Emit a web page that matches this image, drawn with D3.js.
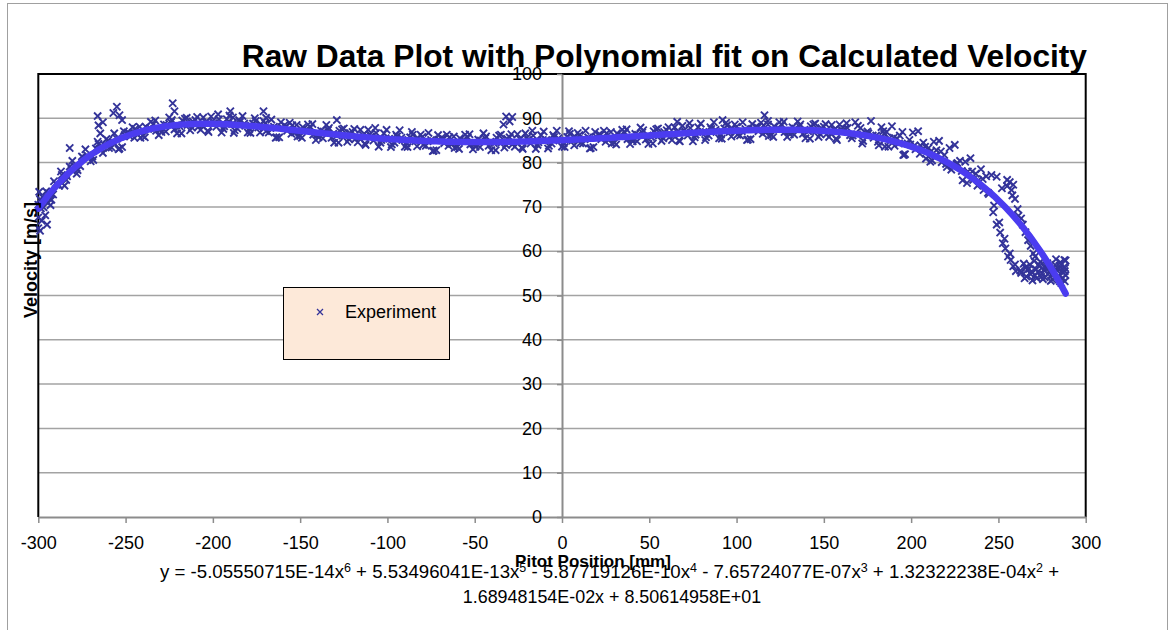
<!DOCTYPE html>
<html>
<head>
<meta charset="utf-8">
<script src="https://cdn.jsdelivr.net/npm/d3@7"></script>
<style>
  body { margin: 0; background: #fff; }
  text { font-family: "Liberation Sans", Arial, sans-serif; fill: #000; }
</style>
</head>
<body>
<script>
// axis ticks
const xTicks = [-300, -250, -200, -150, -100, -50, 0, 50, 100, 150, 200, 250, 300]
const yTicks = [0, 10, 20, 30, 40, 50, 60, 70, 80, 90, 100]

// trendline coefficients a0..a6, as printed under the chart
const fitCoef = [85.0614958, 1.68948154e-2, 1.32322238e-4, -7.65724077e-7, -5.87719126e-10, 5.53496041e-13, -5.05550715e-14]

const edgeStart = [[-300,65.2],[-300,67.6],[-299.5,73.4],[-299,64.6],[-298,66.9],[-297.5,72.2],[-296,68.1],[-295,66.0],[-293,70.4],[-291.5,72.8]]

const scanA = [[-300,70.5],[-297,69.9],[-294,73.1],[-291,75.8],[-288,74.8],[-285,74.8],[-282,79.1],[-279,79.1],[-276,79.2],[-273,83.0],[-270,80.3],[-267,83.2],[-264,83.1],[-261,85.3],[-258,83.4],[-255,85.4],[-252,83.5],[-249,86.8],[-246,88.0],[-243,86.3],[-240,86.0],[-237,87.6],[-234,88.7],[-231,86.2],[-228,88.6],[-225,90.2],[-222,87.5],[-219,88.2],[-216,89.9],[-213,87.3],[-210,89.6],[-207,87.4],[-204,89.1],[-201,90.4],[-198,88.1],[-195,86.8],[-192,89.8],[-189,88.7],[-186,87.7],[-183,90.5],[-180,86.8],[-177,88.8],[-174,87.9],[-171,89.4],[-168,86.8],[-165,88.1],[-162,85.7],[-159,88.4],[-156,89.0],[-153,86.8],[-150,86.0],[-147,87.3],[-144,88.0],[-141,85.1],[-138,87.2],[-135,88.5],[-132,85.6],[-129,86.1],[-126,87.5],[-123,84.7],[-120,86.9],[-117,84.6],[-114,86.2],[-111,87.4],[-108,85.0],[-105,83.6],[-102,86.6],[-99,85.4],[-96,84.5],[-93,87.3],[-90,83.6],[-87,85.7],[-84,84.8],[-81,86.3],[-78,83.8],[-75,85.1],[-72,82.8],[-69,85.6],[-66,86.3],[-63,84.2],[-60,83.5],[-57,84.9],[-54,85.7],[-51,83.0],[-48,85.2],[-45,86.6],[-42,83.8],[-39,84.4],[-36,86.1],[-33,83.4],[-30,85.7],[-27,83.6],[-24,85.3],[-21,86.6],[-18,84.3],[-15,83.1],[-12,86.2],[-9,85.1],[-6,84.3],[-3,87.2],[0,83.6],[3,85.8],[6,85.0],[9,86.7],[12,84.3],[15,85.7],[18,83.5],[21,86.3],[24,87.2],[27,85.2],[30,84.5],[33,86.0],[36,86.8],[39,84.2],[42,86.5],[45,87.9],[48,85.2],[51,85.8],[54,87.5],[57,84.9],[60,87.3],[63,85.1],[66,86.9],[69,88.3],[72,86.1],[75,84.8],[78,88.0],[81,86.9],[84,86.1],[87,89.1],[90,85.5],[93,87.7],[96,86.9],[99,88.6],[102,86.1],[105,87.6],[108,85.3],[111,88.1],[114,89.0],[117,86.9],[120,86.2],[123,87.6],[126,88.5],[129,85.8],[132,88.0],[135,89.3],[138,86.5],[141,87.1],[144,88.6],[147,85.8],[150,88.1],[153,85.8],[156,87.4],[159,88.6],[162,87.6],[165,86.2],[168,89.1],[171,87.8],[174,86.7],[177,89.4],[180,86.1],[183,88.0],[186,86.9],[189,88.2],[192,85.4],[195,86.9],[198,84.3],[201,86.8],[204,87.1],[207,84.5],[210,83.3],[213,84.7],[216,84.9],[219,81.7],[222,83.3],[225,84.0],[228,80.4],[231,80.2],[234,81.0],[237,77.5],[240,78.5],[243,76.9],[246,77.2],[249,76.8],[252,74.2],[255,74.7],[258,72.6],[261,69.5],[264,66.0],[267,62.5],[270,59.5],[273,57.0],[276,55.8],[279,56.4],[282,55.2],[285,56.7],[288,55.5]]

const scanB = [[-298.5,69.7],[-295.5,73.5],[-292.5,71.6],[-289.5,75.0],[-286.5,77.2],[-283.5,76.9],[-280.5,80.4],[-277.5,78.3],[-274.5,81.2],[-271.5,81.3],[-268.5,80.6],[-265.5,84.2],[-262.5,84.1],[-259.5,83.3],[-256.5,86.6],[-253.5,83.2],[-250.5,86.2],[-247.5,85.9],[-244.5,87.6],[-241.5,85.6],[-238.5,88.1],[-235.5,89.2],[-232.5,87.2],[-229.5,86.9],[-226.5,88.5],[-223.5,89.6],[-220.5,86.6],[-217.5,89.5],[-214.5,88.5],[-211.5,89.3],[-208.5,88.0],[-205.5,90.2],[-202.5,86.9],[-199.5,88.9],[-196.5,89.8],[-193.5,88.2],[-190.5,90.6],[-187.5,87.3],[-184.5,89.2],[-181.5,88.3],[-178.5,86.7],[-175.5,89.4],[-172.5,88.6],[-169.5,87.1],[-166.5,89.7],[-163.5,85.7],[-160.5,88.0],[-157.5,87.2],[-154.5,88.4],[-151.5,85.9],[-148.5,88.0],[-145.5,88.6],[-142.5,86.3],[-139.5,85.7],[-136.5,87.0],[-133.5,87.8],[-130.5,84.5],[-127.5,87.2],[-124.5,86.0],[-121.5,86.7],[-118.5,85.3],[-115.5,87.4],[-112.5,84.0],[-109.5,85.9],[-106.5,86.7],[-103.5,85.1],[-100.5,87.4],[-97.5,84.1],[-94.5,85.9],[-91.5,85.1],[-88.5,83.5],[-85.5,86.3],[-82.5,85.5],[-79.5,84.0],[-76.5,86.7],[-73.5,82.7],[-70.5,85.2],[-67.5,84.4],[-64.5,85.7],[-61.5,83.3],[-58.5,85.5],[-55.5,86.3],[-52.5,84.1],[-49.5,83.6],[-46.5,85.0],[-43.5,85.9],[-40.5,82.8],[-37.5,85.6],[-34.5,84.6],[-31.5,85.4],[-28.5,84.1],[-25.5,86.4],[-22.5,83.1],[-19.5,85.1],[-16.5,86.1],[-13.5,84.6],[-10.5,87.0],[-7.5,83.8],[-4.5,85.8],[-1.5,85.0],[1.5,83.5],[4.5,86.5],[7.5,85.8],[10.5,84.4],[13.5,87.2],[16.5,83.3],[19.5,85.9],[22.5,85.3],[25.5,86.6],[28.5,84.3],[31.5,86.6],[34.5,87.4],[37.5,85.3],[40.5,84.8],[43.5,86.3],[46.5,87.3],[49.5,84.2],[52.5,87.1],[55.5,86.1],[58.5,86.9],[61.5,85.7],[64.5,88.0],[67.5,84.8],[70.5,86.8],[73.5,87.8],[76.5,86.3],[79.5,88.8],[82.5,85.7],[85.5,87.6],[88.5,86.9],[91.5,85.4],[94.5,88.4],[97.5,87.7],[100.5,86.3],[103.5,89.1],[106.5,85.2],[109.5,87.7],[112.5,87.1],[115.5,88.4],[118.5,86.0],[121.5,88.2],[124.5,89.1],[127.5,86.9],[130.5,86.4],[133.5,87.7],[136.5,88.6],[139.5,85.5],[142.5,88.2],[145.5,87.1],[148.5,87.8],[151.5,86.4],[154.5,88.5],[157.5,85.1],[160.5,87.0],[163.5,87.8],[166.5,86.1],[169.5,88.3],[172.5,84.9],[175.5,86.6],[178.5,85.6],[181.5,83.9],[184.5,86.5],[187.5,85.5],[190.5,83.8],[193.5,86.1],[196.5,81.9],[199.5,84.1],[202.5,83.0],[205.5,83.8],[208.5,80.9],[211.5,82.6],[214.5,82.8],[217.5,80.1],[220.5,79.0],[223.5,79.7],[226.5,79.9],[229.5,76.0],[232.5,78.0],[235.5,76.1],[238.5,76.0],[241.5,73.8],[244.5,72.9],[247.5,70.3],[250.5,66.5],[253.5,62.8],[256.5,59.5],[259.5,57.0],[262.5,55.6],[265.5,56.3],[268.5,54.8],[271.5,55.9],[274.5,54.2],[277.5,56.8],[280.5,54.6],[283.5,55.7],[286.5,53.8]]

const scanC = [[-299,71.7],[-296,71.3],[-293,71.7],[-290,75.3],[-287,78.0],[-284,76.1],[-281,78.4],[-278,77.5],[-275,81.4],[-272,81.6],[-269,81.4],[-266,84.7],[-263,82.2],[-260,85.0],[-257,84.6],[-254,83.0],[-251,87.1],[-248,86.7],[-245,85.6],[-242,88.1],[-239,85.7],[-236,87.8],[-233,89.5],[-230,87.5],[-227,87.0],[-224,89.1],[-221,88.4],[-218,86.6],[-215,90.1],[-212,87.9],[-209,90.3],[-206,88.3],[-203,87.2],[-200,89.4],[-197,90.9],[-194,87.6],[-191,88.7],[-188,86.7],[-185,89.6],[-182,88.8],[-179,87.6],[-176,90.0],[-173,86.8],[-170,88.9],[-167,87.8],[-164,85.6],[-161,89.1],[-158,88.1],[-155,86.5],[-152,88.5],[-149,85.6],[-146,87.4],[-143,88.7],[-140,86.3],[-137,85.5],[-134,87.4],[-131,86.5],[-128,84.5],[-125,87.7],[-122,85.3],[-119,87.6],[-116,85.5],[-113,84.3],[-110,86.4],[-107,87.8],[-104,84.5],[-101,85.5],[-98,83.5],[-95,86.3],[-92,85.6],[-89,84.4],[-86,86.9],[-83,83.7],[-80,85.8],[-77,84.8],[-74,82.6],[-71,86.2],[-68,85.3],[-65,83.8],[-62,85.9],[-59,83.1],[-56,85.0],[-53,86.4],[-50,84.2],[-47,83.5],[-44,85.5],[-41,84.7],[-38,82.8],[-35,86.3],[-32,84.0],[-29,86.4],[-26,84.5],[-23,83.4],[-20,85.6],[-17,87.2],[-14,84.0],[-11,85.1],[-8,83.2],[-5,86.2],[-2,85.5],[1,84.4],[4,87.1],[7,83.9],[10,86.2],[13,85.3],[16,83.2],[19,86.9],[22,86.2],[25,84.7],[28,86.9],[31,84.1],[34,86.1],[37,87.5],[40,85.4],[43,84.8],[46,86.8],[49,86.1],[52,84.3],[55,87.7],[58,85.5],[61,88.0],[64,86.1],[67,85.0],[70,87.3],[73,88.9],[76,85.7],[79,86.9],[82,85.1],[85,88.0],[88,87.4],[91,86.3],[94,89.0],[97,85.9],[100,88.1],[103,87.1],[106,85.1],[109,88.7],[112,87.9],[115,86.5],[118,88.6],[121,85.8],[124,87.7],[127,89.2],[130,87.0],[133,86.3],[136,88.2],[139,87.4],[142,85.4],[145,88.8],[148,86.4],[151,88.7],[154,86.6],[157,85.4],[160,87.5],[163,88.9],[166,85.5],[169,86.4],[172,84.3],[175,87.0],[178,86.1],[181,84.7],[184,87.1],[187,83.6],[190,85.6],[193,84.3],[196,81.8],[199,85.1],[202,83.9],[205,82.0],[208,83.6],[211,80.2],[214,81.6],[217,82.5],[220,79.7],[223,78.4],[226,79.7],[229,78.1],[232,75.4],[235,78.0],[238,74.8],[241,76.3],[244,73.2]]

const spikes = [[-282,83.3],[-266,90.5],[-265.5,88.4],[-264.5,86.6],[-263,89.1],[-257,91.2],[-255,92.6],[-253.5,90.7],[-252,89.6],[-223,93.4],[-222,91.6],[-190,91.6],[-188.5,90.2],[-171,91.6],[-169.5,90.1],[-129,89.6],[-32,90.4],[-30,89.3],[-28.5,90.3],[-33.5,88.6],[66,89.2],[92,89.6],[116,90.7],[118,89.4],[185,83.6],[195.5,81.7],[212,80.5]]

const dropUpper = [[255,76.1],[256.5,75.6],[257.5,73.8],[258.5,75.0],[259.5,71.8],[261.5,68.0],[263,67.4],[265.5,64.3],[268.5,61.2],[271,58.8]]
const dropLower = [[247,68.8],[249,66.0],[251,64.2],[252.5,61.8],[254,60.6],[255.5,58.8],[257,58.0],[258.5,56.6],[260,55.5]]

const clusterEnd = [[263,55.1],[264.5,57.2],[266,54.3],[267.5,56.0],[269,55.4],[270.5,57.8],[272,53.9],[273.5,56.6],[275,55.0],[276.5,54.1],[278,57.3],[279.5,55.6],[281,53.6],[282.5,56.9],[284,54.4],[285.5,57.5],[287,55.2],[288,53.2],[288.5,57.9],[287.5,56.4],[286,52.8],[284.5,55.9],[283,58.2],[281.5,55.0],[280,53.3],[278.5,54.8],[277,56.1],[275.5,53.7],[274,57.6],[272.5,55.3],[271,54.5],[269.5,53.4],[268,57.0],[266.5,55.8],[265,53.9],[288.4,54.6],[288.2,56.2],[287.8,58.0],[286.8,54.0],[285.2,53.2]]

const w = 1171
const h = 630

const svg = d3.select("body")
  .append("svg")
  .attr("width", w)
  .attr("height", h)

// chart frame
svg.append("rect")
  .attr("x", 7.5)
  .attr("y", 3.5)
  .attr("width", 1160)
  .attr("height", 660)
  .attr("fill", "#fff")
  .attr("stroke", "#a0a0a0")

const xScale = d3.scaleLinear().domain([-300, 300]).range([38.3, 1085.7])
const yScale = d3.scaleLinear().domain([0, 100]).range([517, 74])

// horizontal gridlines
svg.selectAll("line.grid")
  .data(yTicks.filter(d => d > 0 && d < 100))
  .enter()
  .append("line")
  .attr("class", "grid")
  .attr("x1", xScale(-300))
  .attr("x2", xScale(300))
  .attr("y1", d => yScale(d))
  .attr("y2", d => yScale(d))
  .attr("stroke", "#a3a3a3")
  .attr("stroke-width", 1.5)

// plot border (top, left, right)
svg.append("path")
  .attr("d", `M${xScale(-300)},${yScale(0)}V${yScale(100)}H${xScale(300)}V${yScale(0)}`)
  .attr("fill", "none")
  .attr("stroke", "#000")
  .attr("stroke-width", 2)

const plain = d => String(d)

const xAxis = d3.axisBottom(xScale).tickValues(xTicks).tickFormat(plain).tickSizeInner(6).tickSizeOuter(0).tickPadding(13)
const gx = svg.append("g")
  .attr("transform", "translate(0," + yScale(0) + ")")
  .call(xAxis)

const yAxis = d3.axisLeft(yScale).tickValues(yTicks).tickFormat(plain).tickSizeInner(5).tickSizeOuter(0).tickPadding(15)
const gy = svg.append("g")
  .attr("transform", "translate(" + xScale(0) + ",0)")
  .call(yAxis)

;[gx, gy].forEach(g => {
  g.select(".domain").attr("stroke", "#8c8c8c").attr("stroke-width", 2)
  g.selectAll(".tick line").attr("stroke", "#8c8c8c").attr("stroke-width", 1.5)
  g.selectAll(".tick text")
    .attr("font-size", 18)
    .attr("font-family", "'Liberation Sans', Arial, sans-serif")
    .attr("fill", "#000")
})

// measured points as crosses
const allPts = [].concat(edgeStart, scanA, scanB, scanC, spikes, dropUpper, dropLower, clusterEnd)
const cross = "M-3.6,-3.6L3.6,3.6M-3.6,3.6L3.6,-3.6"

svg.append("g")
  .selectAll("path")
  .data(allPts)
  .enter()
  .append("path")
  .attr("transform", d => "translate(" + xScale(d[0]) + "," + yScale(d[1]) + ")")
  .attr("d", cross)
  .attr("fill", "none")
  .attr("stroke", "#333399")
  .attr("stroke-width", 1.9)

// polynomial trendline over the data range
const poly = xv => fitCoef.reduce((s, c, i) => s + c * Math.pow(xv, i), 0)
const xMin = d3.min(allPts, d => d[0])
const xMax = d3.max(allPts, d => d[0])
const fitPts = d3.range(xMin, xMax, 2).concat([xMax]).map(xv => [xv, poly(xv)])

svg.append("path")
  .datum(fitPts)
  .attr("d", d3.line().x(d => xScale(d[0])).y(d => yScale(d[1])))
  .attr("fill", "none")
  .attr("stroke", "#4b3cf0")
  .attr("stroke-width", 6.5)
  .attr("stroke-linecap", "round")
  .attr("stroke-linejoin", "round")

// legend
svg.append("rect")
  .attr("x", 283.5)
  .attr("y", 287.5)
  .attr("width", 166)
  .attr("height", 72)
  .attr("fill", "#fde9d9")
  .attr("stroke", "#000")
  .attr("stroke-width", 1)

svg.append("path")
  .attr("transform", "translate(320,312)")
  .attr("d", "M-3,-3L3,3M-3,3L3,-3")
  .attr("stroke", "#333399")
  .attr("stroke-width", 1.3)

svg.append("text")
  .attr("x", 345)
  .attr("y", 318)
  .attr("font-size", 18)
  .text("Experiment")

// titles
const title = svg.append("text")
  .attr("x", 1087)
  .attr("y", 67)
  .attr("text-anchor", "end")
  .attr("font-weight", "bold")
  .attr("font-size", 26)
  .text("Raw Data Plot with Polynomial fit on Calculated Velocity")
title.attr("font-size", 26 * 846 / title.node().getBBox().width)

svg.append("text")
  .attr("transform", "translate(37,260) rotate(-90)")
  .attr("text-anchor", "middle")
  .attr("font-weight", "bold")
  .attr("font-size", 18)
  .text("Velocity [m/s]")

svg.append("text")
  .attr("x", 593)
  .attr("y", 567)
  .attr("text-anchor", "middle")
  .attr("font-weight", "bold")
  .attr("font-size", 17)
  .text("Pitot Position  [mm]")

// trendline equation, built from the coefficients
const fmtE = v => {
  const parts = Math.abs(v).toExponential(8).split("e")
  const ex = +parts[1]
  return parts[0] + "E" + (ex < 0 ? "-" : "+") + String(Math.abs(ex)).padStart(2, "0")
}
const eqFont = 18.65
const supShift = 6.5

const line1 = svg.append("text")
  .attr("x", 160)
  .attr("y", 578)
  .attr("font-size", eqFont)
let pending = 0
for (let p = 6; p >= 2; p--) {
  const c = fitCoef[p]
  const lead = p === 6 ? "y = " + (c < 0 ? "-" : "") : (c < 0 ? " - " : " + ")
  line1.append("tspan").attr("dy", pending).text(lead + fmtE(c) + "x")
  line1.append("tspan").attr("dy", -supShift).attr("font-size", 12.5).text(String(p))
  pending = supShift
}
line1.append("tspan").attr("dy", pending).text(fitCoef[1] < 0 ? " -" : " +")

svg.append("text")
  .attr("x", 612)
  .attr("y", 603)
  .attr("text-anchor", "middle")
  .attr("font-size", 17.9)
  .text(fmtE(fitCoef[1]) + "x " + (fitCoef[0] < 0 ? "- " : "+ ") + fmtE(fitCoef[0]))
</script>
</body>
</html>
